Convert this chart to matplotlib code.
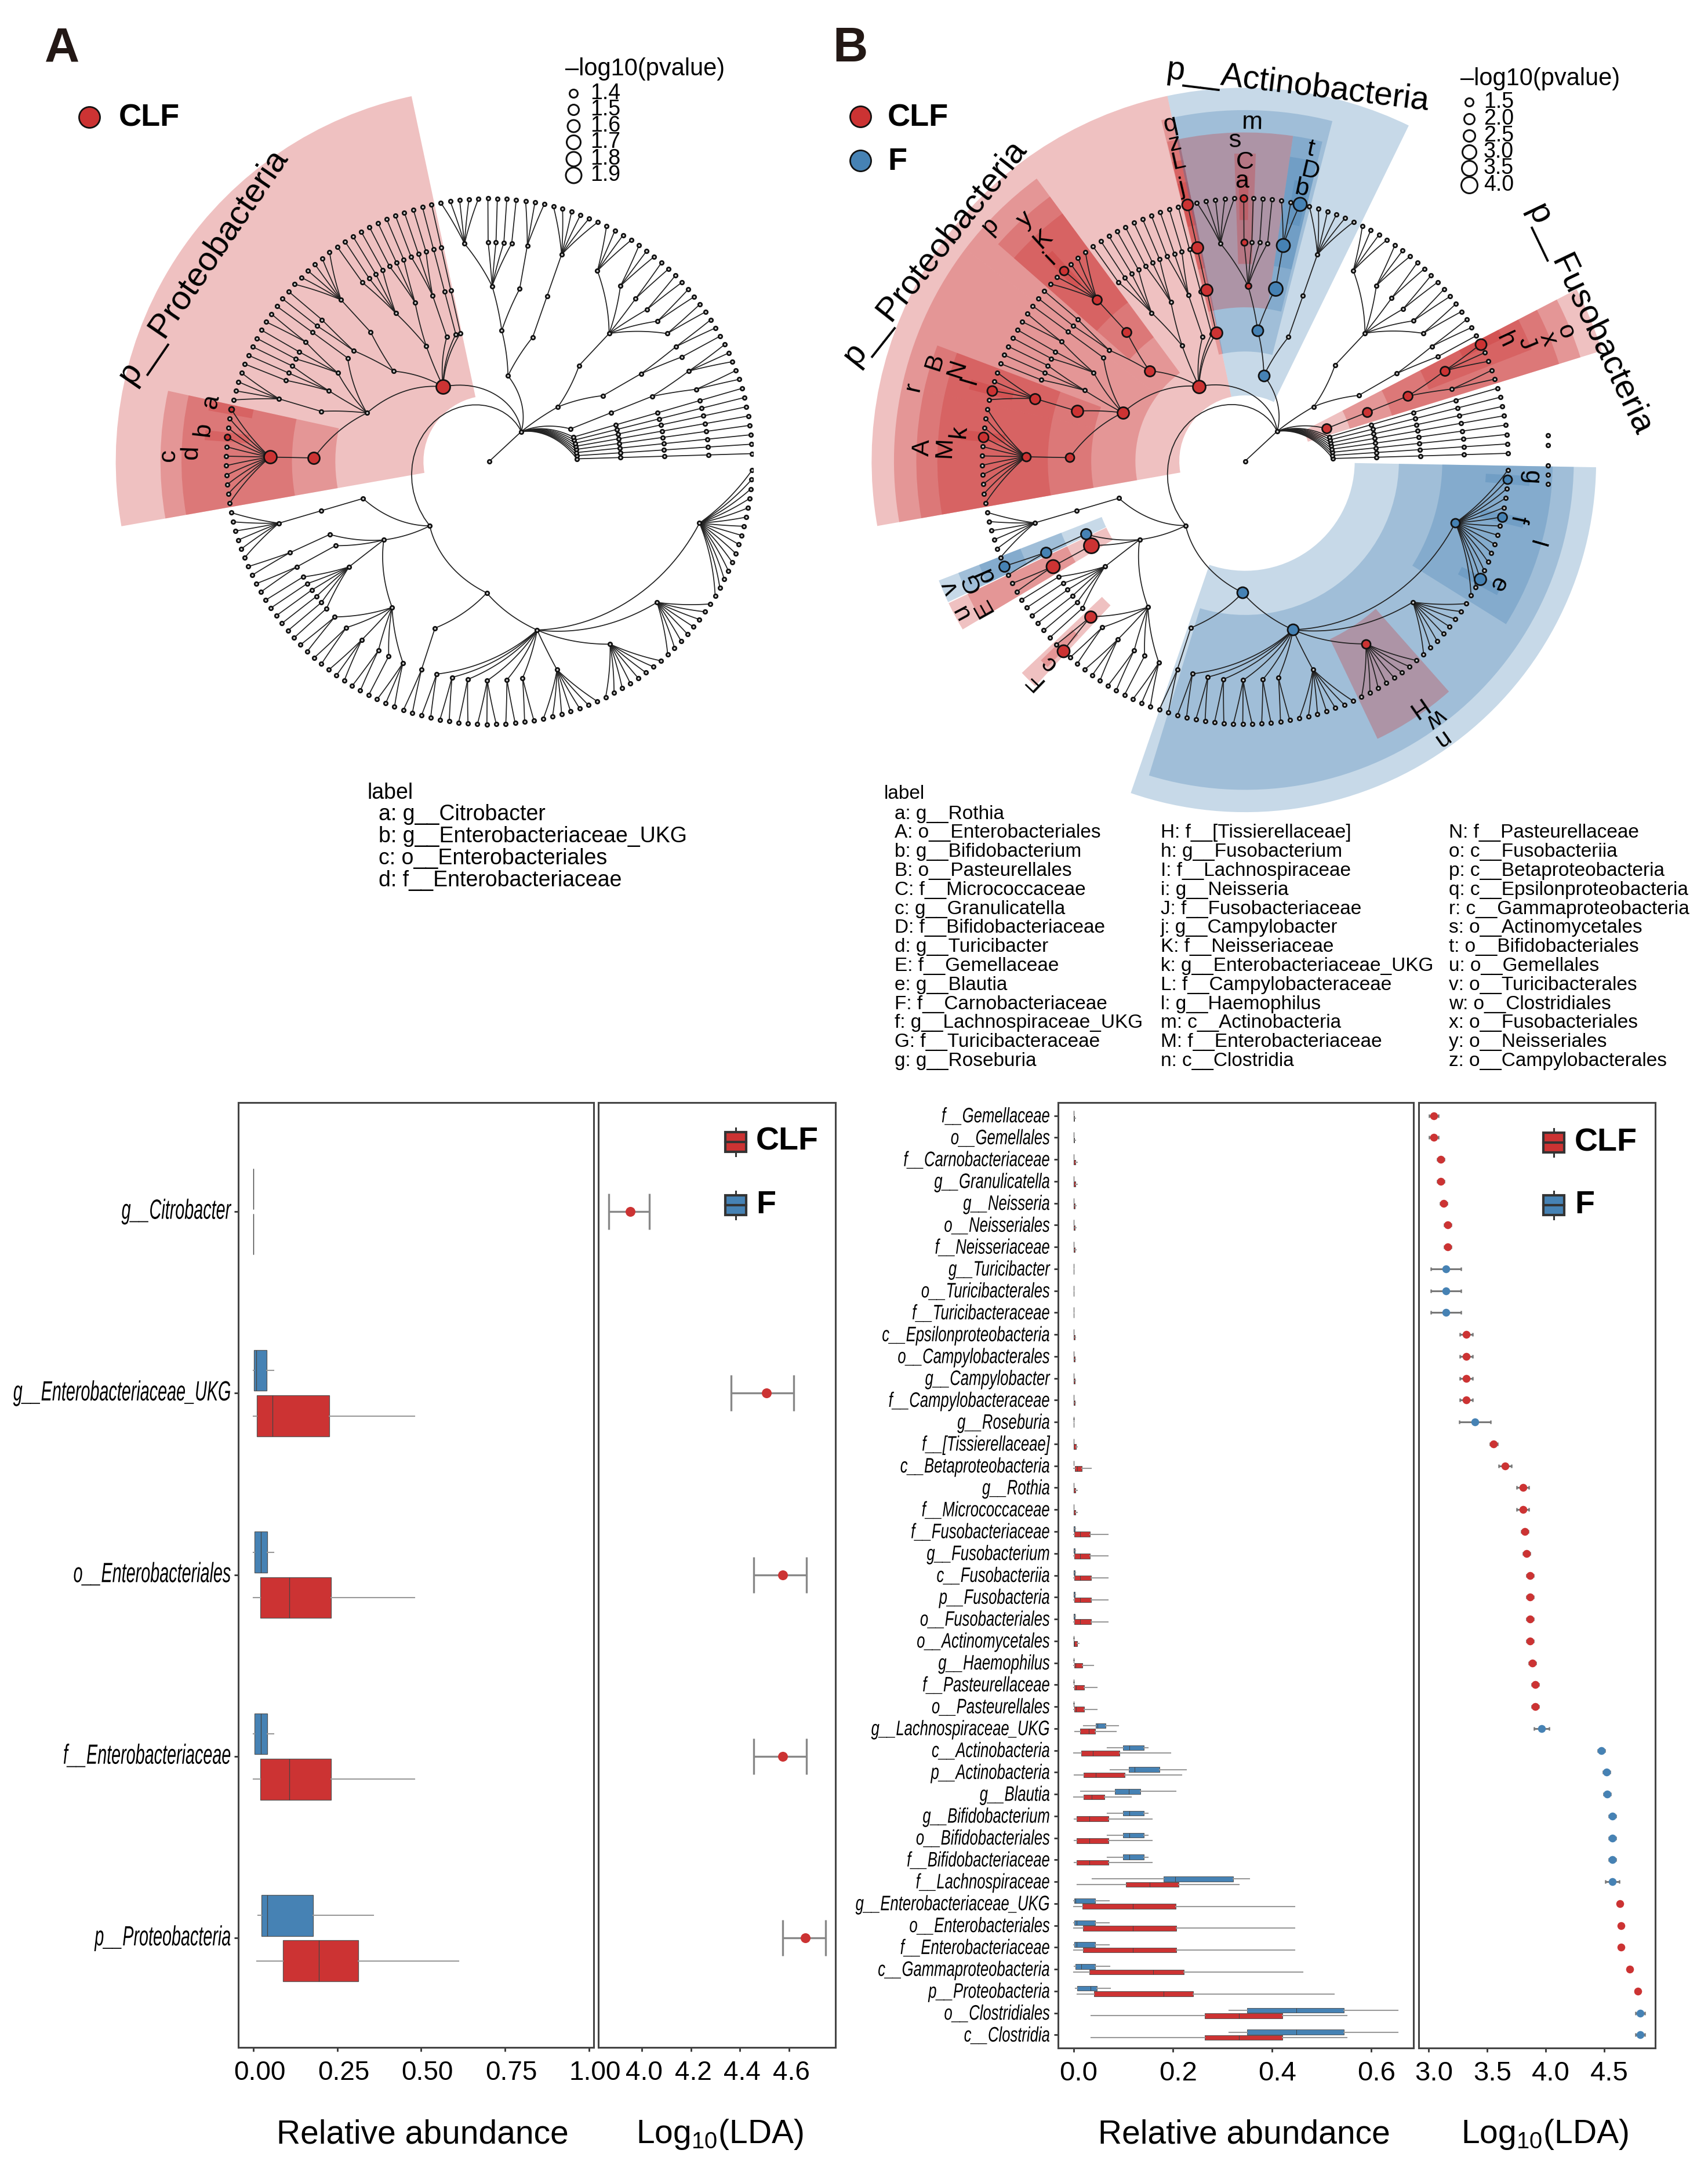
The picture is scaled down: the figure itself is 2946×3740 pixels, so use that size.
import matplotlib
matplotlib.use("Agg")
import matplotlib.pyplot as plt
import matplotlib.patheffects as pe
import numpy as np
from matplotlib.collections import LineCollection
from matplotlib.patches import Wedge, Rectangle
from matplotlib.transforms import Affine2D

plt.rcParams['font.family'] = ['Liberation Sans', 'DejaVu Sans']
plt.rcParams['mathtext.default'] = 'regular'

W, H = 2946, 3740
RED = '#CC3333'
BLUE = '#4682B4'

# tree: phylum > class > order > number of genera in each family
chain = [[[1]]]
phyla = [chain, chain, chain, chain, chain, chain, chain, chain,
         [[[2, 3]]],
         [[[1, 2]], [[2, 2, 2, 2, 3, 4]]],
         [[[6]], [[3], [1, 1, 1, 1, 5]]],
         [[[1]], [[1]], [[1, 1, 1]], [[1, 1, 1], [1, 1, 1, 1]], [[6], [1, 1]],
          [[1], [2, 1, 1], [1, 1, 1], [4], [11]]],
         [[[6]], [[2], [2], [1, 1, 1, 1, 1, 1], [2, 2, 3, 2, 1, 3]],
          [[2], [2, 2, 2, 3, 2, 2, 7, 8, 8, 15]]]]
leaf_step = 2.06
leaf_start = 1.7

# shaded sectors: start angle, end angle, tree level, group
sectors_a = [(102, 190, 2, 'C'), (167.6, 190, 4, 'C'), (167.6, 190, 5, 'C'),
             (167.6, 169.7, 6, 'C'), (173.7, 175.7, 6, 'C')]
sectors_b = [(102, 190, 2, 'C'), (142.8, 190, 3, 'C'), (126.4, 142.8, 3, 'C'), (101.6, 103.8, 3, 'C'),
             (167.6, 190, 4, 'C'), (159.4, 167.6, 4, 'C'), (126.4, 138.7, 4, 'C'), (101.6, 103.7, 4, 'C'),
             (167.6, 190, 5, 'C'), (159.4, 167.6, 5, 'C'), (126.4, 138.7, 5, 'C'), (101.6, 103.7, 5, 'C'),
             (173.7, 175.7, 6, 'C'), (163.4, 165.4, 6, 'C'), (132.5, 134.5, 6, 'C'), (101.6, 103.7, 6, 'C'),
             (64, 102, 2, 'F'), (75.6, 102, 3, 'F'), (81.6, 102, 4, 'C'), (76.4, 81.6, 4, 'F'),
             (88, 92, 5, 'C'), (76.4, 81.6, 5, 'F'), (89.3, 91.3, 6, 'C'), (77, 80, 6, 'F'),
             (17.2, 27.4, 2, 'C'), (17.2, 27.4, 3, 'C'), (17.2, 27.4, 4, 'C'), (21.3, 27.4, 5, 'C'), (25.4, 27.4, 6, 'C'),
             (-154.4, -149.2, 4, 'C'), (-154.4, -149.2, 5, 'C'),
             (-158.7, -154.6, 4, 'F'), (-158.7, -154.6, 5, 'F'), (-158.7, -154.6, 6, 'F'),
             (-136.5, -133, 5, 'C'), (-135.7, -133.8, 6, 'C'),
             (-109, -1, 3, 'F'), (-107, -1, 4, 'F'), (-32, -1, 5, 'F'),
             (-13.5, -11.5, 6, 'F'), (-5, -3, 6, 'F'), (-28, -26, 6, 'F'), (-64.5, -48.5, 5, 'C')]

# enriched nodes: level, angle, group, diameter
nodes_a = [(2, 122, 'C', 24), (4, 179.8, 'C', 20), (5, 179.8, 'C', 22), (6, 168.9, 'C', 9), (6, 174.8, 'C', 10)]
nodes_b = [(2, 122, 'C', 22), (3, 158.5, 'C', 20), (3, 137, 'C', 18), (3, 103.3, 'C', 20),
           (4, 179.3, 'C', 15), (4, 163.5, 'C', 20), (4, 133, 'C', 16), (4, 103.5, 'C', 20),
           (5, 179.4, 'C', 15), (5, 163.4, 'C', 18), (5, 133, 'C', 16), (5, 103, 'C', 20),
           (5, 90, 'C', 11), (4, 88, 'C', 10), (6, 90.9, 'C', 12), (6, 174.6, 'C', 17),
           (6, 164.3, 'C', 17), (6, 133.9, 'C', 15), (6, 103.2, 'C', 19), (2, 21.5, 'C', 16),
           (3, 21.5, 'C', 16), (4, 21.5, 'C', 16), (5, 23.5, 'C', 16), (6, 25.6, 'C', 19),
           (4, 208.7, 'C', 26), (5, 208.7, 'C', 23), (5, 225.4, 'C', 20), (6, 225.3, 'C', 21), (5, 304, 'C', 15),
           (2, 76.6, 'F', 19), (3, 83.4, 'F', 19), (4, 78.7, 'F', 24), (5, 78.7, 'F', 23), (6, 78.7, 'F', 23),
           (3, 267.3, 'F', 19), (4, 283, 'F', 19), (5, 343.4, 'F', 15), (6, 347.5, 'F', 16),
           (6, 355.7, 'F', 15), (6, 333.2, 'F', 20), (4, 204.6, 'F', 18), (5, 204.6, 'F', 18), (6, 203.6, 'F', 18)]
stray_y_b = [.098, .061, -.017, -.052, -.087]

letters_a = [('a', 364, 693), ('b', 351, 741), ('c', 290, 786), ('d', 330, 781)]
letters_b = [('q', 2019, 215), ('z', 2026, 248), ('L', 2033, 279), ('j', 2038, 324), ('m', 2159, 211),
             ('s', 2130, 243), ('C', 2147, 280), ('a', 2142, 313), ('t', 2261, 257), ('D', 2260, 296),
             ('b', 2245, 326), ('y', 1768, 379), ('p', 1708, 390), ('K', 1799, 412), ('i', 1811, 447),
             ('B', 1612, 624), ('N', 1651, 636), ('l', 1673, 657), ('r', 1575, 668), ('A', 1592, 772),
             ('M', 1629, 772), ('k', 1654, 745), ('o', 2700, 572), ('x', 2670, 585), ('J', 2633, 592),
             ('h', 2596, 587), ('g', 2641, 823), ('f', 2618, 895), ('I', 2648, 939), ('e', 2583, 1008),
             ('H', 2442, 1221), ('w', 2477, 1238), ('n', 2485, 1275), ('d', 1701, 992), ('G', 1676, 1004),
             ('v', 1640, 1013), ('E', 1696, 1047), ('u', 1658, 1055), ('c', 1809, 1144), ('F', 1783, 1173)]

key_a = ['a: g__Citrobacter', 'b: g__Enterobacteriaceae_UKG', 'c: o__Enterobacteriales', 'd: f__Enterobacteriaceae']
key_b1 = ['a: g__Rothia', 'A: o__Enterobacteriales', 'b: g__Bifidobacterium', 'B: o__Pasteurellales',
          'C: f__Micrococcaceae', 'c: g__Granulicatella', 'D: f__Bifidobacteriaceae', 'd: g__Turicibacter',
          'E: f__Gemellaceae', 'e: g__Blautia', 'F: f__Carnobacteriaceae', 'f: g__Lachnospiraceae_UKG',
          'G: f__Turicibacteraceae', 'g: g__Roseburia']
key_b2 = ['H: f__[Tissierellaceae]', 'h: g__Fusobacterium', 'I: f__Lachnospiraceae', 'i: g__Neisseria',
          'J: f__Fusobacteriaceae', 'j: g__Campylobacter', 'K: f__Neisseriaceae', 'k: g__Enterobacteriaceae_UKG',
          'L: f__Campylobacteraceae', 'l: g__Haemophilus', 'm: c__Actinobacteria', 'M: f__Enterobacteriaceae',
          'n: c__Clostridia']
key_b3 = ['N: f__Pasteurellaceae', 'o: c__Fusobacteriia', 'p: c__Betaproteobacteria', 'q: c__Epsilonproteobacteria',
          'r: c__Gammaproteobacteria', 's: o__Actinomycetales', 't: o__Bifidobacteriales', 'u: o__Gemellales',
          'v: o__Turicibacterales', 'w: o__Clostridiales', 'x: o__Fusobacteriales', 'y: o__Neisseriales',
          'z: o__Campylobacterales']

pvals_a = ['1.4', '1.5', '1.6', '1.7', '1.8', '1.9']
pvals_b = ['1.5', '2.0', '2.5', '3.0', '3.5', '4.0']

# panel A boxplots
taxa_a = ['g__Citrobacter', 'g__Enterobacteriaceae_UKG', 'o__Enterobacteriales',
          'f__Enterobacteriaceae', 'p__Proteobacteria']
a_clf_q1 = [0, .011, .021, .021, .088]
a_clf_med = [0, .057, .108, .108, .196]
a_clf_q3 = [0, .227, .232, .232, .313]
a_clf_lo = [0, 0, 0, 0, .011]
a_clf_hi = [0, .48, .48, .48, .612]
a_f_q1 = [0, .002, .003, .003, .0245]
a_f_med = [0, .008, .023, .023, .042]
a_f_q3 = [0, .039, .041, .041, .178]
a_f_lo = [0, 0, 0, 0, .013]
a_f_hi = [0, .06, .06, .06, .357]
a_lda = [3.953, 4.507, 4.574, 4.574, 4.667]
a_lda_lo = [3.866, 4.364, 4.455, 4.455, 4.574]
a_lda_hi = [4.031, 4.618, 4.67, 4.67, 4.748]

# panel B boxplots
taxa_b = ['f__Gemellaceae', 'o__Gemellales', 'f__Carnobacteriaceae', 'g__Granulicatella', 'g__Neisseria',
          'o__Neisseriales', 'f__Neisseriaceae', 'g__Turicibacter', 'o__Turicibacterales', 'f__Turicibacteraceae',
          'c__Epsilonproteobacteria', 'o__Campylobacterales', 'g__Campylobacter', 'f__Campylobacteraceae',
          'g__Roseburia', 'f__[Tissierellaceae]', 'c__Betaproteobacteria', 'g__Rothia', 'f__Micrococcaceae',
          'f__Fusobacteriaceae', 'g__Fusobacterium', 'c__Fusobacteriia', 'p__Fusobacteria', 'o__Fusobacteriales',
          'o__Actinomycetales', 'g__Haemophilus', 'f__Pasteurellaceae', 'o__Pasteurellales', 'g__Lachnospiraceae_UKG',
          'c__Actinobacteria', 'p__Actinobacteria', 'g__Blautia', 'g__Bifidobacterium', 'o__Bifidobacteriales',
          'f__Bifidobacteriaceae', 'f__Lachnospiraceae', 'g__Enterobacteriaceae_UKG', 'o__Enterobacteriales',
          'f__Enterobacteriaceae', 'c__Gammaproteobacteria', 'p__Proteobacteria', 'o__Clostridiales', 'c__Clostridia']
b_clf_q1 = [0, 0, 0, 0, 0, 0, 0, 0, 0, 0, 0, 0, 0, 0, 0, 0, .003, 0, 0, .002, .002, .002, .002, .002, 0, .002,
            .002, .002, .013, .016, .02, .02, .006, .006, .006, .106, .018, .019, .019, .032, .042, .264, .264]
b_clf_med = [.0005, .0005, .001, .001, .001, .001, .001, 0, 0, 0, .001, .001, .001, .001, 0, .001, .008, .001, .001,
             .013, .013, .013, .013, .013, .002, .004, .005, .005, .031, .039, .045, .037, .032, .032, .032, .154,
             .12, .12, .12, .161, .182, .334, .334]
b_clf_q3 = [.002, .002, .004, .004, .003, .003, .003, 0, 0, 0, .003, .003, .003, .003, 0, .005, .017, .004, .004,
            .033, .033, .035, .035, .035, .008, .018, .021, .021, .044, .093, .103, .063, .071, .071, .071, .212,
            .206, .207, .207, .223, .241, .421, .421]
b_clf_lo = [0, 0, 0, 0, 0, 0, 0, 0, 0, 0, 0, 0, 0, 0, 0, 0, 0, 0, 0, 0, 0, 0, 0, 0, 0, 0, 0, 0,
            .003, .001, .002, .001, .002, .002, .002, .007, .001, .001, .001, .001, .007, .035, .035]
b_clf_hi = [.004, .004, .007, .007, .005, .005, .005, 0, 0, 0, .004, .004, .004, .004, 0, .008, .035, .007, .007,
            .07, .07, .07, .07, .07, .011, .04, .047, .047, .086, .196, .218, .116, .158, .158, .158, .333,
            .446, .446, .446, .462, .525, .551, .551]
b_f_q1 = [0, 0, 0, 0, 0, 0, 0, 0, 0, 0, 0, 0, 0, 0, 0, 0, 0, 0, 0, 0, 0, 0, 0, 0, 0, 0, 0, 0,
          .045, .1, .112, .084, .1, .1, .1, .182, .002, .002, .002, .004, .007, .35, .35]
b_f_med = [0, 0, 0, 0, 0, 0, 0, .0003, .0003, .0003, 0, 0, 0, 0, .0005, 0, 0, 0, 0, 0, 0, 0, 0, 0, 0, 0, 0, 0,
           .048, .113, .123, .111, .113, .113, .113, .205, .004, .006, .006, .016, .034, .449, .449]
b_f_q3 = [0, 0, 0, 0, 0, 0, 0, .0005, .0005, .0005, 0, 0, 0, 0, .001, 0, 0, 0, 0, .003, .003, .003, .003, .003,
          .001, .001, .001, .001, .065, .142, .173, .135, .142, .142, .142, .322, .044, .044, .044, .044, .047, .545, .545]
b_f_lo = [0, 0, 0, 0, 0, 0, 0, 0, 0, 0, 0, 0, 0, 0, 0, 0, 0, 0, 0, 0, 0, 0, 0, 0, 0, 0, 0, 0,
          .02, .068, .074, .014, .068, .068, .068, .038, .001, .001, .001, .002, .004, .313, .313]
b_f_hi = [0, 0, 0, 0, 0, 0, 0, .001, .001, .001, 0, 0, 0, 0, .002, 0, 0, 0, 0, .004, .004, .004, .004, .004,
          .002, .002, .002, .002, .091, .15, .227, .206, .15, .15, .15, .354, .072, .072, .072, .073, .074, .654, .654]
b_lda = [3.047, 3.047, 3.103, 3.103, 3.131, 3.164, 3.164, 3.15, 3.15, 3.15, 3.323, 3.323, 3.323, 3.323, 3.398,
         3.558, 3.656, 3.806, 3.806, 3.825, 3.839, 3.867, 3.867, 3.867, 3.867, 3.886, 3.914, 3.914, 3.966,
         4.477, 4.519, 4.528, 4.571, 4.571, 4.571, 4.571, 4.636, 4.646, 4.646, 4.72, 4.786, 4.81, 4.81]
b_lda_err = [.04, .04, .03, .03, .03, .03, .03, .13, .13, .13, .055, .055, .055, .055, .135, .03, .055, .05, .05,
             .03, .03, .03, .03, .03, .03, .03, .03, .03, .065, .03, .03, .03, .03, .03, .03, .06,
             .02, .02, .02, .02, .02, .04, .04]
b_group = list('CCCCCCCFFFCCCCFCCCCCCCCCCCCCFFFFFFFFCCCCCFF')


class Squeeze(pe.AbstractPathEffect):
    # the tick labels of the original are condensed
    def __init__(self, sx, x0):
        super().__init__()
        self.sx = sx
        self.x0 = x0

    def draw_path(self, renderer, gc, tpath, affine, rgbFace=None):
        t = affine + Affine2D().translate(-self.x0, 0).scale(self.sx, 1).translate(self.x0, 0)
        renderer.draw_path(gc, tpath, t, rgbFace)


def px_axes(x0, y0, x1, y1):
    return fig.add_axes([x0 / W, 1 - y1 / H, (x1 - x0) / W, (y1 - y0) / H])


def build_tree():
    nodes, edges = [], []
    count = [0]

    def walk(item, level):
        if isinstance(item, int):
            kids = []
            for i in range(item):
                th = leaf_start + leaf_step * count[0]
                count[0] += 1
                nodes.append((level + 1, th))
                kids.append((level + 1, th))
        else:
            kids = [walk(c, level + 1) for c in item]
        th = float(np.mean([k[1] for k in kids]))
        nodes.append((level, th))
        for k in kids:
            edges.append(((level, th), k))
        return (level, th)

    hub = walk(phyla, 1)
    edges.append(((0, hub[1]), hub))
    nodes.append((0, hub[1]))
    return nodes, edges


def polar_xy(level, th):
    r = level / 6
    return r * np.cos(np.radians(th)), r * np.sin(np.radians(th))


def draw_cladogram(box, cx, cy, sectors, enriched):
    R = 453.6
    x0, y0, x1, y1 = box
    ax = px_axes(x0, y0, x1, y1)
    ax.set_xlim((x0 - cx) / R, (x1 - cx) / R)
    ax.set_ylim((cy - y1) / R, (cy - y0) / R)
    ax.axis('off')
    bands = {2: (.25, 1.42), 3: (.417, 1.335), 4: (.585, 1.25), 5: (.75, 1.17), 6: (.917, 1.085)}
    for t1, t2, lev, grp in sectors:
        r0, r1 = bands[lev]
        ax.add_patch(Wedge((0, 0), r1, t1, t2, width=r1 - r0, lw=0, alpha=.3,
                           facecolor=RED if grp == 'C' else BLUE, zorder=1))
    segs = []
    for (l0, t0), (l1, t1) in edges:
        ts = np.linspace(t0, t1, 30)
        ls = np.linspace(l0, l1, 30)
        segs.append(np.column_stack(polar_xy(ls, ts)))
    ax.add_collection(LineCollection(segs, colors='#222222', linewidths=1.25, zorder=2))
    pts = np.array([polar_xy(l, t) for l, t in nodes])
    ax.plot(pts[:, 0], pts[:, 1], 'o', ms=4.6, mfc='#cccccc', mec='#111111', mew=2, zorder=3)
    for lev, th, grp, d in enriched:
        same = [n for n in nodes if n[0] == lev]
        near = min(same, key=lambda n: abs((n[1] - th + 180) % 360 - 180))
        x, y = polar_xy(*near)
        ax.plot(x, y, 'o', ms=d / 1.39, mfc=RED if grp == 'C' else BLUE, mec='#111111', mew=2, zorder=4)
    return ax


def box_stats(q1, med, q3, lo, hi):
    return [dict(q1=a, med=b, q3=c, whislo=d, whishi=e) for a, b, c, d, e in zip(q1, med, q3, lo, hi)]


def draw_boxes(ax, stats, pos, color, lw):
    ax.bxp(stats, positions=pos, widths=.225, orientation='horizontal', patch_artist=True, showfliers=False,
           showcaps=False, manage_ticks=False,
           boxprops=dict(facecolor=color, edgecolor='#555555', linewidth=lw),
           medianprops=dict(color='#444444', linewidth=lw),
           whiskerprops=dict(color='#999999', linewidth=1.5))


def style_panel(ax, xticks, xlabels, shift, size=33):
    for s in ax.spines.values():
        s.set_linewidth(2.2)
        s.set_color('#444444')
    ax.set_xticks(xticks, labels=xlabels, fontsize=size)
    ax.tick_params(axis='x', length=5, width=2, color='#333333', pad=11)
    for lab in ax.get_xticklabels():
        lab.set_transform(lab.get_transform() + Affine2D().translate(shift, 0))


def squeeze_ylabels(ax, sx, x0, dy):
    for lab in ax.get_yticklabels():
        lab.set_path_effects([Squeeze(sx, x0)])
        lab.set_transform(lab.get_transform() + Affine2D().translate(0, dy))


fig = plt.figure(figsize=(W / 100, H / 100), dpi=100)
nodes, edges = build_tree()

cx_a, cy_a = 843.75, 796
cx_b, cy_b = 2147.5, 795.5
draw_cladogram((0, 0, 1299, 1450), cx_a, cy_a, sectors_a, nodes_a)
ax_b = draw_cladogram((1400, 0, 2946, 1450), cx_b, cy_b, sectors_b, nodes_b)
ax_b.plot([1.152] * len(stray_y_b), stray_y_b, 'o', ms=4.6, mfc='#cccccc', mec='#111111', mew=2, zorder=3)

# panel A, relative abundance
y_a = np.arange(len(taxa_a))
ax1 = px_axes(410.6, 1902, 1024, 3531.5)
draw_boxes(ax1, box_stats(a_f_q1, a_f_med, a_f_q3, a_f_lo, a_f_hi), y_a - .125, BLUE, .9)
draw_boxes(ax1, box_stats(a_clf_q1, a_clf_med, a_clf_q3, a_clf_lo, a_clf_hi), y_a + .125, RED, .9)
ax1.set_xlim(-.0456, 1.0145)
ax1.set_ylim(4.6, -.6)
ax1.set_yticks(y_a, labels=taxa_a, fontsize=34.5, style='italic')
ax1.tick_params(axis='y', length=5, width=2, color='#333333', pad=4)
squeeze_ylabels(ax1, .6, 398, 5)
style_panel(ax1, [0, .25, .5, .75, 1], ['0.00', '0.25', '0.50', '0.75', '1.00'], 11)

# panel A, LDA
ax2 = px_axes(1031.6, 1902, 1441, 3531.5)
xerr = [np.array(a_lda) - np.array(a_lda_lo), np.array(a_lda_hi) - np.array(a_lda)]
ax2.errorbar(a_lda, y_a, xerr=xerr, fmt='none', ecolor='#888888', elinewidth=2.4, capsize=22, capthick=2.4)
ax2.scatter(a_lda, y_a, s=150, color=RED, zorder=3, lw=0)
ax2.set_xlim(3.822, 4.789)
ax2.set_ylim(4.6, -.6)
ax2.set_yticks([])
style_panel(ax2, [4, 4.2, 4.4, 4.6], ['4.0', '4.2', '4.4', '4.6'], 4)

# panel B, relative abundance
y_b = np.arange(len(taxa_b))
ax3 = px_axes(1825, 1902, 2438, 3533)
draw_boxes(ax3, box_stats(b_f_q1, b_f_med, b_f_q3, b_f_lo, b_f_hi), y_b - .125, BLUE, .7)
draw_boxes(ax3, box_stats(b_clf_q1, b_clf_med, b_clf_q3, b_clf_lo, b_clf_hi), y_b + .125, RED, .7)
ax3.set_xlim(-.031, .685)
ax3.set_ylim(42.6, -.6)
ax3.set_yticks(y_b, labels=taxa_b, fontsize=26, style='italic')
ax3.tick_params(axis='y', length=5, width=2, color='#333333', pad=5)
squeeze_ylabels(ax3, .71, 1811, 2)
style_panel(ax3, [0, .2, .4, .6], ['0.0', '0.2', '0.4', '0.6'], 9, 34)

# panel B, LDA
ax4 = px_axes(2447, 1902, 2855, 3533)
for grp, col in (('C', RED), ('F', BLUE)):
    idx = [i for i, g in enumerate(b_group) if g == grp]
    xs = [b_lda[i] for i in idx]
    ax4.errorbar(xs, idx, xerr=[b_lda_err[i] for i in idx], fmt='none', ecolor='#777777',
                 elinewidth=2.2, capsize=2.5, capthick=1.8)
    ax4.scatter(xs, idx, s=95, color=col, zorder=3, lw=0)
ax4.set_xlim(2.917, 4.937)
ax4.set_ylim(42.6, -.6)
ax4.set_yticks([])
style_panel(ax4, [3, 3.5, 4, 4.5], ['3.0', '3.5', '4.0', '4.5'], 9, 34)

# everything placed by pixel goes on one overlay
page = fig.add_axes([0, 0, 1, 1], zorder=10)
page.set_xlim(0, W)
page.set_ylim(H, 0)
page.axis('off')


def letters(items, cx, cy):
    for ch, x, y in items:
        rot = np.degrees(np.arctan2(cy - y, x - cx)) - 90
        page.text(x, y, ch, fontsize=31, rotation=rot, ha='center', va='center', rotation_mode='anchor')


def size_legend(title, tx, ty, values, x_c, x_t, ys, ds, fs):
    page.text(tx, ty, title, fontsize=30, ha='left', va='center')
    for v, y, d in zip(values, ys, ds):
        page.plot(x_c, y, 'o', ms=d / 1.39, mfc='none', mec='#111111', mew=2.2)
        page.text(x_t, y, v, fontsize=fs, ha='left', va='center')


def group_key(x, y, col, text, tx):
    page.plot([x, x], [y - 24, y + 24], color='#333333', lw=2.2, zorder=1)
    page.add_patch(Rectangle((x - 18, y - 17), 36, 34, facecolor=col, edgecolor='#333333', lw=3, zorder=2))
    page.plot([x - 18, x + 18], [y, y], color='#333333', lw=3, zorder=3)
    page.text(tx, y, text, fontsize=40, fontweight='bold', ha='left', va='center')


page.text(107, 85, 'A', fontsize=60, fontweight='bold', color='#231815', ha='center', va='center')
page.text(1467, 84, 'B', fontsize=60, fontweight='bold', color='#231815', ha='center', va='center')
for x, y, col, txt, tx in [(154, 200, RED, 'CLF', 205), (1484, 199, RED, 'CLF', 1531), (1484, 275, BLUE, 'F', 1531)]:
    page.plot(x, y + 2, 'o', ms=26, mfc=col, mec='#111111', mew=2)
    page.text(tx, y + 4, txt, fontsize=39, fontweight='bold', ha='left', va='center')

page.text(350, 460, 'p__Proteobacteria', fontsize=42, rotation=55.6, ha='center', va='center', rotation_mode='anchor')
page.text(1612, 436, 'p__Proteobacteria', fontsize=42, rotation=51.7, ha='center', va='center', rotation_mode='anchor')
page.text(2238, 148, 'p__Actinobacteria', fontsize=41, rotation=-7, ha='center', va='center', rotation_mode='anchor')
page.text(2741, 552, 'p__Fusobacteria', fontsize=42, rotation=-64.4, ha='center', va='center', rotation_mode='anchor')
letters(letters_a, cx_a, cy_a)
letters(letters_b, cx_b, cy_b)

size_legend('–log10(pvalue)', 975, 119, pvals_a, 989, 1018, [161, 189, 217, 245, 274, 302], [14, 18, 21, 24, 25, 27], 27)
size_legend('–log10(pvalue)', 2519, 136, pvals_b, 2534, 2559, [176, 205, 234, 262, 290, 319], [14, 18, 20, 24, 26, 28], 27)

page.text(634, 1368, 'label', fontsize=27, va='center')
for i, s in enumerate(key_a):
    page.text(653, 1405 + 38 * i, s, fontsize=27, va='center')
page.text(1525, 1370, 'label', fontsize=24, va='center')
for i, s in enumerate(key_b1):
    page.text(1543, 1404 + 32.8 * i, s, fontsize=24, va='center')
for i, s in enumerate(key_b2):
    page.text(2002, 1437 + 32.8 * i, s, fontsize=24, va='center')
for i, s in enumerate(key_b3):
    page.text(2499, 1437 + 32.8 * i, s, fontsize=24, va='center')

group_key(1269, 1970, RED, 'CLF', 1304)
group_key(1269, 2079, BLUE, 'F', 1304)
group_key(2680, 1971, RED, 'CLF', 2716)
group_key(2680, 2079, BLUE, 'F', 2716)

page.text(729, 3682, 'Relative abundance', fontsize=41, ha='center', va='center')
page.text(1241, 3682, r'Log$_{10}$(LDA)', fontsize=41, ha='center', va='center')
page.text(2146, 3682, 'Relative abundance', fontsize=41, ha='center', va='center')
page.text(2664, 3682, r'Log$_{10}$(LDA)', fontsize=41, ha='center', va='center')

fig.savefig('out.png', dpi=100)
